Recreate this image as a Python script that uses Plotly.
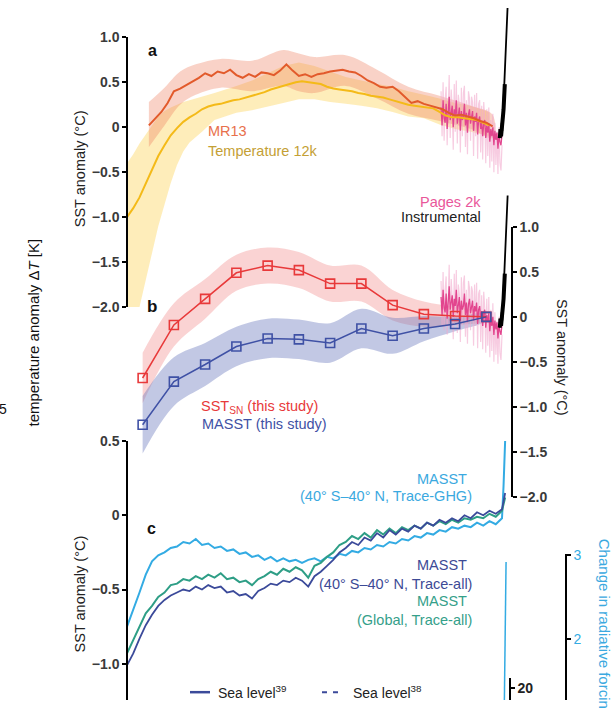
import numpy as np
import plotly.graph_objects as go

W, H = 614, 708
FONT = "Liberation Sans, Arial, Helvetica, sans-serif"

# ---------------- data (time in ka BP) ----------------
# Panel a
MR13_V = [0.02, 0.10, 0.17, 0.27, 0.40, 0.43, 0.47, 0.51, 0.55, 0.60,
          0.57, 0.62, 0.60, 0.64, 0.58, 0.55, 0.59, 0.56, 0.61, 0.60,
          0.58, 0.63, 0.70, 0.63, 0.57, 0.59, 0.56, 0.59, 0.60, 0.62,
          0.63, 0.64, 0.62, 0.61, 0.57, 0.52, 0.49, 0.45, 0.44, 0.45,
          0.40, 0.34, 0.27, 0.29, 0.26, 0.24, 0.22, 0.20, 0.16, 0.13,
          0.14, 0.12, 0.10, 0.07, 0.05, 0.01]
MR13_T = np.linspace(11.3, 0.3, len(MR13_V))
MR13_BAND_T = [11.3, 10.8, 10.3, 9.8, 9.0, 8.0, 7.0, 6.5, 6.0, 5.0, 4.0, 3.0, 2.0, 1.0, 0.3]
MR13_BAND_HI = [0.28, 0.44, 0.62, 0.70, 0.76, 0.74, 0.86, 0.82, 0.78, 0.80, 0.64, 0.45, 0.35, 0.24, 0.14]
MR13_BAND_LO = [-0.22, 0.02, 0.25, 0.36, 0.44, 0.40, 0.46, 0.40, 0.38, 0.46, 0.32, 0.15, 0.07, -0.02, -0.12]

T12_V = [-1.00, -0.90, -0.78, -0.63, -0.47, -0.32, -0.20, -0.09, -0.01, 0.06,
         0.11, 0.15, 0.20, 0.23, 0.25, 0.26, 0.28, 0.30, 0.31, 0.33,
         0.35, 0.37, 0.39, 0.42, 0.44, 0.46, 0.48, 0.50, 0.51, 0.50,
         0.49, 0.48, 0.45, 0.43, 0.42, 0.41, 0.40, 0.38, 0.37, 0.35,
         0.34, 0.33, 0.31, 0.29, 0.27, 0.25, 0.24, 0.23, 0.22, 0.21,
         0.17, 0.13, 0.11, 0.11, 0.10, 0.09, 0.08, 0.05, 0.02]
T12_T = np.linspace(12.0, 0.4, len(T12_V))
T12_BAND_T = [12.0, 11.8, 11.6, 11.4, 11.2, 11.0, 10.8, 10.6, 10.4, 10.2, 10.0,
              9.6, 9.2, 8.5, 8.0, 7.5, 7.0, 6.5, 6.0, 5.5, 5.0, 4.5, 4.0, 3.5,
              3.0, 2.5, 2.0, 1.5, 1.0, 0.5, 0.4]
T12_BAND_HI = [-0.40, -0.30, -0.18, -0.08, 0.03, 0.12, 0.18, 0.22, 0.25, 0.28, 0.30,
               0.34, 0.38, 0.46, 0.52, 0.60, 0.68, 0.72, 0.68, 0.62, 0.56, 0.52, 0.48, 0.45,
               0.40, 0.36, 0.32, 0.27, 0.24, 0.18, 0.16]
T12_BAND_LO = [-2.00, -2.00, -2.00, -1.70, -1.40, -1.10, -0.85, -0.62, -0.42, -0.27, -0.17,
               -0.05, 0.08, 0.16, 0.19, 0.23, 0.27, 0.31, 0.31, 0.28, 0.26, 0.24, 0.21, 0.17,
               0.12, 0.10, 0.03, -0.02, -0.05, -0.09, -0.10]

P2K_V = [0.22, 0.02, 0.30, 0.10, 0.05, 0.26, -0.02, 0.18, 0.34, 0.08,
         0.14, 0.24, 0.00, 0.20, 0.12, 0.30, 0.04, 0.16, 0.22, -0.04,
         0.18, 0.08, 0.12, 0.26, 0.02, 0.16, -0.06, 0.14, 0.20, 0.04,
         0.10, 0.18, -0.04, 0.12, 0.06, 0.16, -0.08, 0.08, 0.12, -0.02,
         0.06, -0.10, 0.04, 0.08, -0.12, 0.02, -0.06, 0.04, -0.16, -0.02,
         -0.10, 0.00, -0.20, -0.04, -0.14, -0.06, -0.24, -0.10, -0.16, -0.20, -0.08]
P2K_ENS = [0.40, -0.10, 0.50, -0.15, 0.30, 0.45, -0.20, 0.35, 0.58, -0.12,
           0.42, 0.20, -0.25, 0.48, -0.05, 0.52, -0.18, 0.36, 0.25, -0.28,
           0.44, -0.10, 0.38, 0.46, -0.22, 0.30, -0.30, 0.40, 0.32, -0.15,
           0.34, 0.28, -0.32, 0.36, -0.10, 0.38, -0.35, 0.26, 0.30, -0.28,
           0.24, -0.36, 0.28, 0.10, -0.40, 0.20, -0.32, 0.22, -0.45, 0.08,
           -0.38, 0.15, -0.50, 0.05, -0.42, -0.05, -0.52, 0.00, -0.40, -0.48, -0.20]
P2K_T = np.linspace(1.95, 0.0, len(P2K_V))

INSTR_T = [0.07, 0.05, 0.03, 0.01, -0.01, -0.03, -0.05, -0.07, -0.09, -0.12, -0.15, -0.18]
INSTR_V = [-0.12, -0.02, -0.10, 0.05, -0.04, 0.12, 0.20, 0.35, 0.48, 0.75, 1.05, 1.35]
INSTR_THICK_N = 9

# Panel b (this study), 1-kyr bins
B_T = np.linspace(11.5, 0.5, 12)
SSTSN = [-0.68, -0.09, 0.20, 0.49, 0.57, 0.52, 0.37, 0.37, 0.13, 0.03, 0.01, 0.00]
SSTSN_ERR = [0.28, 0.24, 0.22, 0.20, 0.20, 0.20, 0.20, 0.20, 0.17, 0.14, 0.10, 0.04]
MASST_B = [-1.20, -0.72, -0.53, -0.33, -0.24, -0.25, -0.29, -0.13, -0.21, -0.13, -0.08, 0.00]
MASST_B_ERR = [0.32, 0.27, 0.24, 0.22, 0.22, 0.22, 0.22, 0.22, 0.20, 0.14, 0.08, 0.04]

# Panel c (TraCE model MASST)
C_T = list(np.linspace(12.0, 0.0, 61)) + [-0.05, -0.10]
GHG = [-0.75, -0.64, -0.52, -0.40, -0.31, -0.27, -0.25, -0.22, -0.21, -0.18,
       -0.19, -0.16, -0.20, -0.19, -0.22, -0.21, -0.24, -0.23, -0.26, -0.25,
       -0.28, -0.27, -0.30, -0.28, -0.31, -0.29, -0.31, -0.30, -0.32, -0.30,
       -0.29, -0.31, -0.28, -0.29, -0.26, -0.27, -0.24, -0.25, -0.22, -0.23,
       -0.20, -0.21, -0.18, -0.19, -0.16, -0.17, -0.14, -0.15, -0.12, -0.13,
       -0.10, -0.11, -0.08, -0.09, -0.07, -0.08, -0.05, -0.07, -0.04, -0.06,
       -0.02, 0.20, 0.50]
GLOBAL_ALL = [-0.93, -0.84, -0.76, -0.66, -0.61, -0.55, -0.52, -0.47, -0.46, -0.43,
              -0.44, -0.41, -0.43, -0.40, -0.42, -0.39, -0.43, -0.42, -0.45, -0.44,
              -0.47, -0.43, -0.41, -0.38, -0.40, -0.36, -0.38, -0.35, -0.37, -0.42,
              -0.34, -0.32, -0.28, -0.25, -0.20, -0.18, -0.14, -0.16, -0.12, -0.15,
              -0.10, -0.13, -0.09, -0.12, -0.08, -0.10, -0.07, -0.09, -0.05, -0.07,
              -0.04, -0.06, -0.03, -0.05, -0.02, -0.03, -0.01, -0.02, 0.01, -0.01,
              0.03, 0.08, 0.12]
TROP_ALL = [-1.01, -0.93, -0.83, -0.74, -0.67, -0.61, -0.57, -0.54, -0.52, -0.50,
            -0.51, -0.48, -0.50, -0.47, -0.49, -0.48, -0.52, -0.51, -0.54, -0.53,
            -0.56, -0.51, -0.49, -0.46, -0.47, -0.44, -0.45, -0.42, -0.44, -0.48,
            -0.41, -0.38, -0.34, -0.30, -0.25, -0.22, -0.18, -0.20, -0.15, -0.17,
            -0.12, -0.15, -0.10, -0.13, -0.09, -0.11, -0.07, -0.09, -0.05, -0.07,
            -0.03, -0.05, -0.02, -0.04, 0.00, -0.02, 0.02, 0.00, 0.03, 0.01,
            0.04, 0.10, 0.15]
RF_T = [-0.07, -0.10, -0.13]
RF_V = [1.10, 2.00, 2.92]

# ---------------- colours ----------------
C_MR = "#E25A2B"; C_MR_BAND = "rgba(238,125,95,0.35)"
C_T12 = "#F4BA18"; C_T12_BAND = "rgba(253,222,130,0.55)"
C_P2K = "#E2458E"; C_P2K_L = "rgba(242,170,205,0.6)"
C_RED = "#E8393A"; C_RED_BAND = "rgba(240,120,120,0.33)"
C_BLUE = "#3F51A5"; C_BLUE_BAND = "rgba(110,125,190,0.42)"
C_LB = "#33ABE3"; C_GR = "#2E9E86"; C_NV = "#3B4A9A"

# ---------------- pixel geometry (layout only) ----------------
PX_PER_KA = 31.25
X0_PX, X0_T = 127, 12.0
def t_at(px):
    return X0_T - (px - X0_PX) / PX_PER_KA

def vrange(zero_px, px_per_unit, ref=0.0):
    return [ref + (zero_px - H) / px_per_unit, ref + zero_px / px_per_unit]

def dom(top_px, bot_px):
    return [1 - bot_px / H, 1 - top_px / H]

fig = go.Figure()

def band(t, hi, lo, color, yaxis, shape="spline"):
    t = list(t)
    fig.add_trace(go.Scatter(x=t + t[::-1], y=list(hi) + list(lo)[::-1], fill="toself",
                             fillcolor=color, line=dict(width=0, shape=shape),
                             mode="lines", yaxis=yaxis, hoverinfo="skip", showlegend=False))

def line(t, v, color, yaxis, width=2, **kw):
    fig.add_trace(go.Scatter(x=list(t), y=list(v), mode="lines", line=dict(color=color, width=width),
                             yaxis=yaxis, hoverinfo="skip", showlegend=False, **kw))

# ----- panel a (yaxis 'y') -----
band(T12_BAND_T, T12_BAND_HI, T12_BAND_LO, C_T12_BAND, "y", shape="linear")
band(MR13_BAND_T, MR13_BAND_HI, MR13_BAND_LO, C_MR_BAND, "y")
line(P2K_T, P2K_ENS, C_P2K_L, "y", width=1.2)
line(P2K_T, P2K_V, C_P2K, "y", width=1.3)
line(T12_T, T12_V, C_T12, "y", width=2)
line(MR13_T, MR13_V, C_MR, "y", width=2)
line(INSTR_T, INSTR_V, "black", "y", width=1.8)
line(INSTR_T[:INSTR_THICK_N], INSTR_V[:INSTR_THICK_N], "black", "y", width=4)

# ----- panel b (yaxis 'y2') -----
band(B_T, np.add(SSTSN, SSTSN_ERR), np.subtract(SSTSN, SSTSN_ERR), C_RED_BAND, "y2")
band(B_T, np.add(MASST_B, MASST_B_ERR), np.subtract(MASST_B, MASST_B_ERR), C_BLUE_BAND, "y2")
line(P2K_T, P2K_ENS, C_P2K_L, "y2", width=1.2)
line(P2K_T, P2K_V, C_P2K, "y2", width=1.3)
for vals, col in [(SSTSN, C_RED), (MASST_B, C_BLUE)]:
    fig.add_trace(go.Scatter(x=list(B_T), y=vals, mode="lines+markers",
                             line=dict(color=col, width=1.5),
                             marker=dict(symbol="square-open", size=9, color=col, line=dict(width=1.6, color=col)),
                             yaxis="y2", hoverinfo="skip", showlegend=False))
line(INSTR_T, INSTR_V, "black", "y2", width=1.8)
line(INSTR_T[:INSTR_THICK_N], INSTR_V[:INSTR_THICK_N], "black", "y2", width=4)

# ----- panel c (yaxis 'y3') -----
line(C_T, GHG, C_LB, "y3", width=2)
line(C_T, GLOBAL_ALL, C_GR, "y3", width=2)
line(C_T, TROP_ALL, C_NV, "y3", width=1.8)
# radiative forcing (yaxis 'y4')
line(RF_T, RF_V, C_LB, "y4", width=1.5)

# dummy traces so that the display axes are drawn
for ax in ["y5", "y6", "y7", "y8", "y9"]:
    fig.add_trace(go.Scatter(x=[None], y=[None], yaxis=ax, mode="lines", showlegend=False, hoverinfo="skip"))

TICKFONT = dict(family=FONT, size=14, color="#3a3a3a", weight="bold")
def disp_axis(top_px, bot_px, rng, pos_px, side, tickvals, ticktext, font_color=None, bold=True):
    f = dict(TICKFONT)
    if font_color:
        f["color"] = font_color
    if not bold:
        f["weight"] = "normal"
    return dict(domain=dom(top_px, bot_px), range=rng, anchor="free", position=pos_px / W, side=side,
                showline=True, linecolor="black", linewidth=1.5, ticks="outside", ticklen=4, tickwidth=2,
                tickcolor="black", tickvals=tickvals, ticktext=ticktext, tickfont=f,
                showgrid=False, zeroline=False, fixedrange=True)

hidden = dict(domain=[0, 1], visible=False, showgrid=False, zeroline=False, anchor="x", fixedrange=True)
M = "\u2212"
TV = [1.0, 0.5, 0, -0.5, -1.0, -1.5, -2.0]
TT = ["1.0", "0.5", "0", M + "0.5", M + "1.0", M + "1.5", M + "2.0"]

fig.update_layout(
    width=W, height=H, margin=dict(l=0, r=0, t=0, b=0),
    paper_bgcolor="white", plot_bgcolor="rgba(0,0,0,0)", showlegend=False,
    font=dict(family=FONT),
    xaxis=dict(domain=[0, 1], range=[t_at(0), t_at(W)], visible=False, anchor="y", fixedrange=True),
    yaxis=dict(hidden, range=vrange(122, 92)),
    yaxis2=dict(hidden, range=vrange(316, 92)),
    yaxis3=dict(hidden, range=vrange(519, 152)),
    yaxis4=dict(hidden, range=vrange(560, 86, ref=3.0)),
    yaxis5=disp_axis(30, 306, [-2.0, 1.0], 127, "left", TV, TT),
    yaxis6=disp_axis(224, 500, [-2.0, 1.0], 512, "right", TV, TT),
    yaxis7=disp_axis(443, H, [(519 - H) / 152, 0.5], 127, "left", [0.5, 0, -0.5, -1.0],
                     ["0.5", "0", M + "0.5", M + "1.0"]),
    yaxis8=disp_axis(559, H, [3 - (H - 560) / 86, 3 + 1 / 86], 566, "right", [3, 2], ["3", "2"],
                     font_color=C_LB, bold=False),
    yaxis9=disp_axis(686, H, [20 - 1.2, 20 + 1.0], 510, "right", [20], ["20"], font_color="#222"),
)

LS = 14.5
def ann(x, y, text, color="#222", size=LS, xanchor="left", yanchor="middle", angle=0, bold=False):
    if bold:
        text = "<b>" + text + "</b>"
    fig.add_annotation(xref="paper", yref="paper", x=x / W, y=1 - y / H, text=text, showarrow=False,
                       xanchor=xanchor, yanchor=yanchor, textangle=angle,
                       font=dict(family=FONT, size=size, color=color))

ann(146, 43, "a", size=16, bold=True, color="#111")
ann(145, 305, "b", size=17, bold=True, color="#111")
ann(145, 533, "c", size=16, bold=True, color="#111")
ann(206, 126, "MR13", color="#E8704C")
ann(206, 146, "Temperature 12k", color="#C4A035")
ann(483, 198, "Pages 2k", color="#E9579A", xanchor="right")
ann(483, 214, "Instrumental", color="#222", xanchor="right")
ann(199, 408, "SST<sub>SN</sub> (this study)", color=C_RED)
ann(200, 426, "MASST (this study)", color=C_BLUE)
ann(469, 482, "MASST", color="#3BA9E0", xanchor="right")
ann(474, 499, "(40° S–40° N, Trace-GHG)", color="#3BA9E0", xanchor="right")
ann(469, 570, "MASST", color="#3D4A96", xanchor="right")
ann(474, 589, "(40° S–40° N, Trace-all)", color="#3D4A96", xanchor="right")
ann(469, 607, "MASST", color="#35A08A", xanchor="right")
ann(474, 626, "(Global, Trace-all)", color="#35A08A", xanchor="right")
ann(80, 165, "SST anomaly (°C)", xanchor="center", angle=-90)
ann(80, 600, "SST anomaly (°C)", xanchor="center", angle=-90)
ann(562, 357, "SST anomaly (°C)", xanchor="center", angle=90)
ann(33, 332, "temperature anomaly Δ<i>T</i> [K]", size=15, xanchor="center", angle=-90, color="#111")
ann(9, 410, "5", size=14, xanchor="right", color="#111")
ann(604, 541, "Change in radiative forcing", size=15, xanchor="center",
    yanchor="top", angle=90, color="#3BA9E0")
ann(216, 700, "Sea level<sup>39</sup>", size=14)
ann(351, 700, "Sea level<sup>38</sup>", size=14)

fig.add_shape(type="line", xref="paper", yref="paper", x0=190 / W, x1=210 / W, y0=1 - 700 / H, y1=1 - 700 / H,
              line=dict(color=C_NV, width=2.5))
fig.add_shape(type="line", xref="paper", yref="paper", x0=322 / W, x1=343 / W, y0=1 - 700 / H, y1=1 - 700 / H,
              line=dict(color=C_NV, width=2, dash="5px,6px"))

fig.write_html("out.html")
